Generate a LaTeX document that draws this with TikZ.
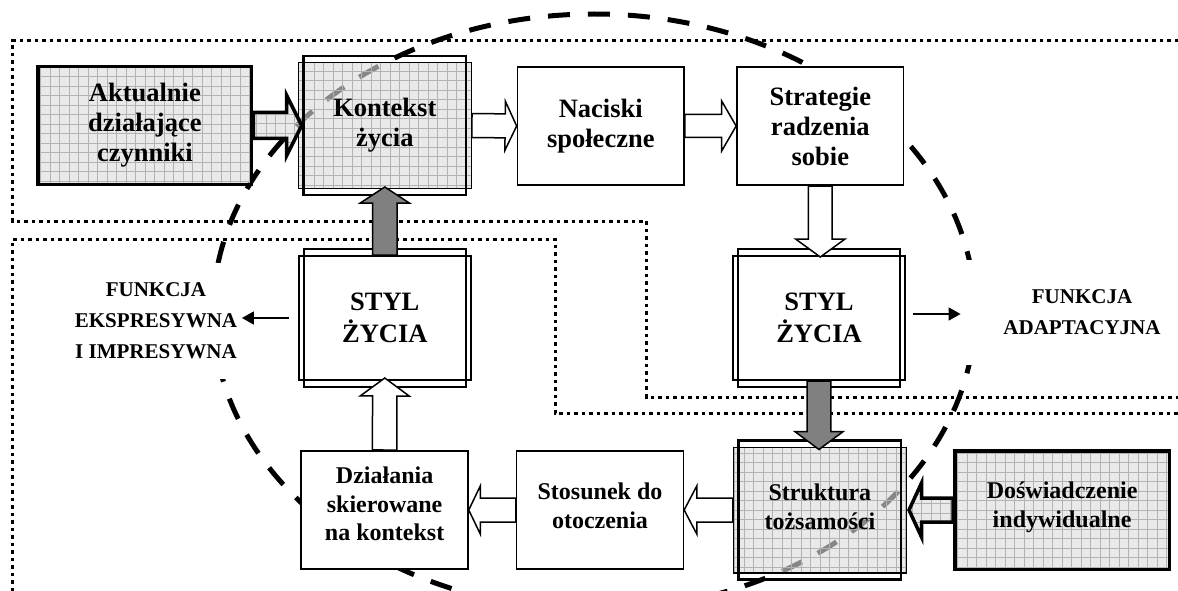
\documentclass[tikz,border=0pt]{standalone}
\usepackage{fontspec}
\setmainfont{Liberation Serif}
\usetikzlibrary{calc,arrows.meta}
\tikzset{
  every node/.style={font=\bfseries\fontsize{26.5}{30}\selectfont, align=center, inner sep=0pt},
  gridfill/.style={fill=black!14, fill opacity=0.62, text opacity=1,
    path picture={\draw[black!30, line width=0.6pt] (path picture bounding box.south west) grid[step=9.5pt] (path picture bounding box.north east);}},
  bigbox/.style={draw, line width=3.5pt, gridfill, minimum width=213.4pt, minimum height=117.5pt},
  dblgray/.style={draw, line width=1.3pt, gridfill, minimum width=172.9pt, minimum height=125.7pt},
  dblwhite/.style={draw, line width=2pt, fill=white, minimum width=172.2pt, minimum height=124pt, font=\bfseries\fontsize{26.5}{32}\selectfont},
  plainbox/.style={draw, line width=1.6pt, fill=white, minimum width=166.7pt, minimum height=118.4pt},
  smalltext/.style={font=\bfseries\fontsize{24}{28.5}\selectfont},
  fntext/.style={font=\bfseries\fontsize{21}{31}\selectfont, fill=white},
  whitearrow/.style={draw, fill=white, line width=1.5pt, line join=miter},
  grayarrow/.style={draw, fill=black!50, line width=1.5pt, line join=miter},
  gridarrow/.style={draw, line width=3.5pt, line join=miter, gridfill},
  dotline/.style={line width=3pt, dash pattern=on 3.5pt off 4pt},
  thinarr/.style={line width=1.6pt, -{Triangle[length=12pt,width=13pt]}},
}
\newcommand\innerframe[3]{\draw[line width=#3] ([shift={(#2,#2)}]#1.north west) rectangle ([shift={(-#2,-#2)}]#1.south east);}
\newcommand\barrow[6]{%
  \path (#2) coordinate (ba-s) (#3) coordinate (ba-t);
  \path ($(ba-t)!#6!(ba-s)$) coordinate (ba-b);
  \draw[#1] ($(ba-s)!#4!90:(ba-t)$) -- ($(ba-b)!#4!-90:(ba-s)$) -- ($(ba-b)!#5!-90:(ba-s)$)
    -- (ba-t) -- ($(ba-b)!#5!90:(ba-s)$) -- ($(ba-b)!#4!90:(ba-s)$) -- ($(ba-s)!#4!-90:(ba-t)$) -- cycle;}
\begin{document}
\begin{tikzpicture}[x=1pt,y=-1pt]
\useasboundingbox (0,0) rectangle (1178,591);
% dotted regions
\draw[dotline] (1178,40.7) -- (12.6,40.7) -- (12.6,221) -- (646.7,221) -- (646.7,397) -- (1178,397);
\draw[dotline] (12.6,591) -- (12.6,239) -- (555,239) -- (555,413) -- (1178,413);
% dashed ellipse
\begin{scope}
\clip (0,0) rectangle (1178,591);
\draw[line width=5pt, dash pattern=on 22pt off 18pt] (594,312) ellipse [x radius=381, y radius=298];
\end{scope}
% labels (white text boxes hide the ellipse)
\node[fntext, inner xsep=3pt, inner ysep=20pt] (fe) at (156,321) {FUNKCJA\\EKSPRESYWNA\\I IMPRESYWNA};
\node[fntext, inner xsep=44pt, inner ysep=30pt] (fa) at (1082,312.5) {FUNKCJA\\ADAPTACYJNA};
\coordinate (feA) at (241.9,318);
\coordinate (faA) at (960.6,314);
% boxes
\node[bigbox] (akt) at (144.9,125.5) {Aktualnie\\działające\\czynniki};
\node[dblgray] (kon) at (384.8,125.5) {Kontekst\\życia};
\innerframe{kon}{5.8pt}{2.5pt}
\node[plainbox] (nac) at (600.8,126) {Naciski\\społeczne};
\node[plainbox] (str) at (820.3,126) {Strategie\\radzenia\\sobie};
\node[dblwhite] (styL) at (384.8,318) {STYL\\ŻYCIA};
\innerframe{styL}{6pt}{2pt}
\node[dblwhite] (styR) at (819,318) {STYL\\ŻYCIA};
\innerframe{styR}{6pt}{2pt}
\node[plainbox] (dzi) at (384.6,510) {};
\node[smalltext] (dzit) at ([yshift=6pt]dzi.center) {Działania\\skierowane\\na kontekst};
\node[plainbox] (sto) at (600,510) {};
\node[smalltext] (stot) at ([yshift=4pt]sto.center) {Stosunek do\\otoczenia};
\node[dblgray] (stru) at (819.9,510) {};
\innerframe{stru}{5.8pt}{2.5pt}
\node[smalltext] (strut) at ([yshift=3pt]stru.center) {Struktura\\tożsamości};
\node[bigbox, minimum width=214.7pt, minimum height=118.5pt] (dos) at (1062.1,510) {};
\node[smalltext] (dost) at ([yshift=3pt]dos.center) {Doświadczenie\\indywidualne};
% block arrows
\barrow{gridarrow}{akt.east}{[xshift=4pt]kon.west}{13pt}{30pt}{15pt}
\barrow{whitearrow}{kon.east}{nac.west}{12pt}{24.5pt}{11.5pt}
\barrow{whitearrow}{nac.east}{str.west}{11.5pt}{25pt}{14.5pt}
\barrow{whitearrow}{str.south}{[yshift=-2pt]str.south |- styR.north}{11.85pt}{24.75pt}{18pt}
\barrow{grayarrow}{styL.north}{[yshift=2pt]kon.south}{12.2pt}{24.5pt}{16pt}
\barrow{whitearrow}{dzi.north}{[yshift=3pt]styL.south}{12.2pt}{24.5pt}{18pt}
\barrow{grayarrow}{styR.south}{[yshift=-3pt]styR.south |- stru.north}{11.85pt}{24.2pt}{18pt}
\barrow{whitearrow}{sto.west}{dzi.east}{12pt}{24pt}{11.5pt}
\barrow{whitearrow}{stru.west}{sto.east}{12pt}{24pt}{12.6pt}
\barrow{gridarrow}{dos.west}{[xshift=2pt]stru.east}{12pt}{27pt}{12.5pt}
% thin arrows
\draw[thinarr] ([xshift=-8.7pt]styL.west) -- (feA);
\draw[thinarr] ([shift={(6.5pt,4pt)}]styR.east) -- (faA);
\end{tikzpicture}
\end{document}
